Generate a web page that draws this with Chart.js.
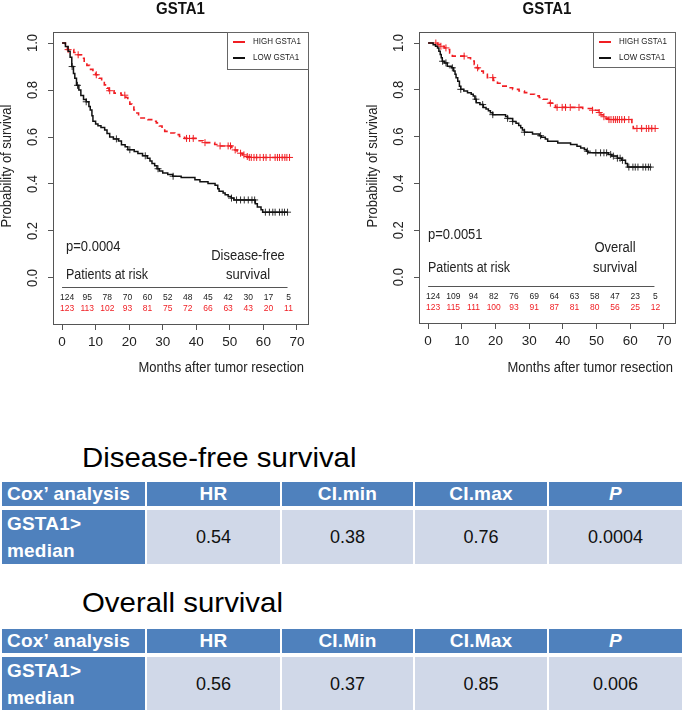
<!DOCTYPE html>
<html>
<head>
<meta charset="utf-8">
<script src="https://cdn.jsdelivr.net/npm/chart.js@4.4.0/dist/chart.umd.min.js"></script>
<style>
  html, body { margin: 0; padding: 0; background: #fff; }
  #page { position: relative; width: 682px; height: 710px; overflow: hidden; font-family: "Liberation Sans", Arial, sans-serif; }
  .plot { position: absolute; top: 0; }
  .heading { position: absolute; left: 82px; font-size: 28px; line-height: 32px; color: #000; white-space: nowrap; transform: scaleX(1.05); transform-origin: left top; }
  table.cox { position: absolute; left: 0; width: 684px; border-collapse: separate; border-spacing: 2px 4px; table-layout: fixed; }
  table.cox td { padding: 0; }
  table.cox tr.head td { height: 24px; background: #4f81bd; color: #fff; font-weight: bold; font-size: 19px; text-align: center; letter-spacing: 0.2px; }
  table.cox tr.head td:first-child { text-align: left; padding-left: 5px; }
  table.cox tr.head td.p { font-style: italic; }
  table.cox tr.vals td { height: 53px; background: #d0d8e8; color: #111; font-size: 18px; text-align: center; }
  table.cox tr.vals td.lab { background: #4f81bd; color: #fff; font-weight: bold; font-size: 19px; text-align: left; padding-left: 5px; line-height: 27px; letter-spacing: 0.2px; }
</style>
</head>
<body>
<div id="page">
  <canvas id="dfsChart" class="plot" style="left:0" width="341" height="380"></canvas>
  <canvas id="osChart" class="plot" style="left:341px" width="341" height="380"></canvas>
  <div class="heading" style="top:442px">Disease-free survival</div>
  <table class="cox" id="coxDfs" style="top:478px"></table>
  <div class="heading" style="top:587px">Overall survival</div>
  <table class="cox" id="coxOs" style="top:625px"></table>
</div>
<script>
// --- Data ---
const riskTimes = [0, 6, 12, 18, 24, 30, 36, 42, 48, 54, 60, 66];
const dfsRiskLow = [124, 95, 78, 70, 60, 52, 48, 45, 42, 30, 17, 5];
const dfsRiskHigh = [123, 113, 102, 93, 81, 75, 72, 66, 63, 43, 20, 11];
const osRiskLow = [124, 109, 94, 82, 76, 69, 64, 63, 58, 47, 23, 5];
const osRiskHigh = [123, 115, 111, 100, 93, 91, 87, 81, 80, 56, 25, 12];

// Disease-free survival, step points (months, survival) and censor times
const dfsHighT = [0, 1.0, 1.6, 3.5, 4.5, 5.8, 6.6, 7.4, 8.2, 9.2, 10.0, 11.0, 11.8, 12.6, 13.4, 14.0, 15.5, 17.6, 19.0, 19.6, 20.2, 20.8, 21.4, 21.8, 22.8, 23.5, 25.6, 27.0, 28.1, 29.0, 29.8, 30.6, 32.0, 33.6, 35.0, 36.5, 40.5, 42.0, 45.5, 47.0, 50.6, 51.2, 52.2, 52.8, 53.8, 54.6, 55.4, 67.8];
const dfsHighS = [1, 0.985, 0.972, 0.96, 0.95, 0.935, 0.918, 0.905, 0.888, 0.875, 0.865, 0.85, 0.836, 0.822, 0.808, 0.797, 0.787, 0.778, 0.768, 0.755, 0.74, 0.728, 0.715, 0.702, 0.69, 0.681, 0.674, 0.667, 0.66, 0.647, 0.635, 0.624, 0.617, 0.61, 0.602, 0.594, 0.584, 0.576, 0.568, 0.562, 0.552, 0.545, 0.538, 0.531, 0.524, 0.517, 0.513, 0.513];
const dfsHighC = [1.8, 4.8, 10.2, 14.2, 18.7, 37.1, 38.0, 39.1, 42.6, 47.1, 49.5, 50.2, 51.6, 53.2, 54.2, 55.2, 55.8, 56.4, 57.2, 58.0, 59.0, 60.0, 60.8, 62.0, 63.5, 64.2, 64.8, 65.6, 66.4, 67.0, 67.8];

const dfsLowT = [0, 1.0, 1.8, 2.4, 2.9, 3.4, 3.8, 4.3, 5.0, 5.6, 6.4, 7.2, 8.0, 8.4, 8.9, 9.2, 10.0, 10.7, 11.6, 12.7, 13.4, 14.2, 15.3, 16.8, 17.7, 18.8, 19.6, 21.5, 22.6, 24.0, 25.4, 26.2, 26.8, 27.6, 28.3, 29.0, 30.0, 31.5, 33.0, 35.5, 39.6, 41.1, 43.5, 45.6, 46.4, 46.8, 48.0, 48.6, 49.5, 50.4, 51.2, 57.6, 58.2, 59.3, 59.8, 67.2];
const dfsLowS = [1, 0.985, 0.965, 0.94, 0.90, 0.87, 0.85, 0.82, 0.80, 0.777, 0.76, 0.75, 0.73, 0.715, 0.69, 0.667, 0.655, 0.648, 0.64, 0.63, 0.615, 0.60, 0.592, 0.583, 0.567, 0.558, 0.546, 0.538, 0.53, 0.52, 0.51, 0.498, 0.487, 0.478, 0.465, 0.455, 0.447, 0.44, 0.433, 0.428, 0.418, 0.41, 0.402, 0.395, 0.38, 0.369, 0.362, 0.354, 0.347, 0.34, 0.332, 0.316, 0.302, 0.29, 0.28, 0.28];
const dfsLowC = [3.0, 4.6, 7.2, 16.2, 20.2, 24.8, 28.6, 33.1, 50.5, 52.0, 53.2, 54.3, 55.5, 56.6, 57.4, 60.6, 61.8, 62.8, 63.5, 64.8, 65.6, 66.3, 67.2];

// Overall survival
const osHighT = [0, 2.8, 3.6, 4.8, 5.6, 6.4, 7.2, 11.4, 12.6, 13.7, 14.3, 15.0, 16.4, 17.6, 19.4, 20.6, 21.7, 24.0, 25.1, 27.0, 28.6, 30.2, 31.6, 33.0, 34.1, 35.4, 36.0, 37.2, 37.8, 45.9, 48.8, 50.6, 51.3, 52.0, 52.8, 53.6, 60.5, 60.9, 67.6];
const osHighS = [1, 0.993, 0.986, 0.979, 0.972, 0.958, 0.944, 0.937, 0.923, 0.908, 0.894, 0.88, 0.866, 0.852, 0.84, 0.828, 0.816, 0.809, 0.802, 0.795, 0.788, 0.781, 0.774, 0.767, 0.76, 0.752, 0.743, 0.734, 0.725, 0.72, 0.713, 0.703, 0.693, 0.685, 0.679, 0.673, 0.655, 0.635, 0.635];
const osHighC = [2.3, 3.8, 5.3, 10.7, 14.7, 19.2, 36.3, 38.3, 39.8, 40.8, 42.2, 44.8, 48.8, 50.8, 52.2, 53.7, 54.3, 55.0, 55.6, 56.2, 56.8, 57.5, 58.3, 59.6, 62.0, 63.4, 64.8, 65.5, 66.4, 67.4];

const osLowT = [0, 1.5, 2.2, 2.8, 3.2, 3.6, 3.9, 4.2, 4.8, 5.7, 7.0, 7.6, 8.0, 8.3, 8.8, 9.3, 9.7, 10.6, 11.7, 12.8, 13.4, 13.9, 14.3, 15.4, 16.4, 17.2, 17.9, 18.5, 19.2, 23.0, 23.6, 25.1, 26.1, 26.9, 27.5, 28.0, 28.6, 31.0, 33.0, 33.6, 34.8, 35.5, 38.5, 42.3, 44.2, 45.3, 46.4, 47.0, 47.5, 53.5, 54.5, 56.2, 57.5, 58.6, 59.2, 66.0];
const osLowS = [1, 0.993, 0.986, 0.979, 0.965, 0.951, 0.937, 0.922, 0.915, 0.901, 0.894, 0.88, 0.866, 0.852, 0.837, 0.815, 0.802, 0.795, 0.788, 0.781, 0.774, 0.76, 0.745, 0.737, 0.725, 0.718, 0.711, 0.702, 0.694, 0.686, 0.678, 0.665, 0.657, 0.648, 0.638, 0.628, 0.619, 0.611, 0.604, 0.597, 0.59, 0.58, 0.573, 0.566, 0.559, 0.552, 0.545, 0.538, 0.531, 0.524, 0.517, 0.508, 0.499, 0.485, 0.47, 0.47];
const osLowC = [4.3, 5.3, 7.2, 9.7, 14.2, 16.2, 19.2, 23.6, 25.1, 28.6, 33.4, 47.3, 49.8, 51.2, 52.2, 53.0, 54.2, 55.0, 56.2, 57.0, 57.7, 59.6, 60.8, 61.5, 62.3, 63.8, 64.6, 65.4, 66.0];

// Cox tables
const coxHeadDfs = ['Cox\u2019 analysis', 'HR', 'CI.min', 'CI.max', 'P'];
const coxHeadOs = ['Cox\u2019 analysis', 'HR', 'CI.Min', 'CI.Max', 'P'];
const coxDfsVals = ['0.54', '0.38', '0.76', '0.0004'];
const coxOsVals = ['0.56', '0.37', '0.85', '0.006'];

// --- Helpers ---
const RED = '#f01e23';
const DARK = '#111111';
const FONT = '"Liberation Sans", Arial, sans-serif';

function survAt(ts, ss, t) {
    let s = ss[0];
    for (let i = 0; i < ts.length; i++) {
        if (ts[i] <= t) s = ss[i];
    }
    return s;
}

function stepData(ts, ss) {
    return ts.map((t, i) => ({ x: t, y: ss[i] }));
}

function censorData(cs, ts, ss) {
    return cs.map(t => ({ x: t, y: survAt(ts, ss, t) }));
}

// text is a little taller than wide in the original, so stretch it vertically
function put(ctx, str, x, y, font, color, align) {
    ctx.save();
    ctx.translate(x, y);
    ctx.scale(1, 1.12);
    ctx.font = font;
    ctx.fillStyle = color;
    ctx.textAlign = align || 'left';
    ctx.textBaseline = 'middle';
    ctx.fillText(str, 0, 0);
    ctx.restore();
}

// draws box, labels, legend and the risk table
const kmDecor = {
    id: 'kmDecor',
    afterDraw(chart, args, o) {
        const ctx = chart.ctx;
        const a = chart.chartArea;
        const xs = chart.scales.x, ys = chart.scales.y;
        ctx.save();

        // frame
        ctx.strokeStyle = '#555';
        ctx.lineWidth = 1;
        ctx.strokeRect(a.left + 0.5, a.top + 0.5, a.right - a.left, a.bottom - a.top);

        // title
        put(ctx, 'GSTA1', (a.left + a.right) / 2, 9, 'bold 15px ' + FONT, '#111', 'center');

        // rotated y tick labels and y title
        ys.ticks.forEach(tk => {
            ctx.save();
            ctx.translate(a.left - 20, ys.getPixelForValue(tk.value));
            ctx.rotate(-Math.PI / 2);
            put(ctx, tk.value.toFixed(1), 0, 0, '13px ' + FONT, '#222', 'center');
            ctx.restore();
        });
        ctx.save();
        ctx.translate(a.left - 46, 166);
        ctx.rotate(-Math.PI / 2);
        put(ctx, 'Probability of survival', 0, 0, '13px ' + FONT, '#222', 'center');
        ctx.restore();

        // x title
        put(ctx, 'Months after tumor resection', o.xTitleRight, 368, '13px ' + FONT, '#222', 'right');

        // annotations
        put(ctx, o.pText, o.textX, o.pY, '13px ' + FONT, '#222', 'left');
        put(ctx, 'Patients at risk', o.textX, o.riskHeadY, '12.5px ' + FONT, '#222', 'left');
        o.endpoint.forEach((line, i) => {
            put(ctx, line, o.endpointX, o.endpointY[i], '13px ' + FONT, '#222', 'center');
        });

        // risk table
        ctx.strokeStyle = '#555';
        ctx.beginPath();
        ctx.moveTo(xs.getPixelForValue(0), o.riskLineY + 0.5);
        ctx.lineTo(xs.getPixelForValue(67.2), o.riskLineY + 0.5);
        ctx.stroke();
        riskTimes.forEach((t, i) => {
            const px = xs.getPixelForValue(t) + 5;
            put(ctx, String(o.riskLow[i]), px, o.riskLowY, '8.5px ' + FONT, '#222', 'center');
            put(ctx, String(o.riskHigh[i]), px, o.riskHighY, '8.5px ' + FONT, RED, 'center');
        });

        // legend
        const L = o.legend;
        ctx.strokeStyle = '#666';
        ctx.strokeRect(L.x + 0.5, a.top + 0.5, a.right - L.x, L.h);
        ctx.lineWidth = 2;
        [[RED, 'HIGH GSTA1', a.top + 10], [DARK, 'LOW GSTA1', a.top + 26]].forEach(([c, label, y]) => {
            ctx.strokeStyle = c;
            ctx.beginPath();
            ctx.moveTo(L.x + 6, y);
            ctx.lineTo(L.x + 18, y);
            ctx.stroke();
            put(ctx, label, L.x + 26, y, '8px ' + FONT, '#222', 'left');
        });

        ctx.restore();
    }
};

function makeKM(canvasId, cfg) {
    return new Chart(document.getElementById(canvasId), {
        type: 'scatter',
        data: {
            datasets: [
                {
                    data: stepData(cfg.lowT, cfg.lowS), showLine: true, stepped: true,
                    borderColor: DARK, borderWidth: 1.5, pointRadius: 0
                },
                {
                    data: stepData(cfg.highT, cfg.highS), showLine: true, stepped: true,
                    borderColor: RED, borderWidth: 1.6, borderDash: [5, 4], pointRadius: 0
                },
                {
                    data: censorData(cfg.lowC, cfg.lowT, cfg.lowS), showLine: false,
                    pointStyle: 'cross', pointRadius: 3.5, borderColor: '#333', borderWidth: 1
                },
                {
                    data: censorData(cfg.highC, cfg.highT, cfg.highS), showLine: false,
                    pointStyle: 'cross', pointRadius: 3.5, borderColor: RED, borderWidth: 1
                }
            ]
        },
        options: {
            responsive: false,
            animation: false,
            layout: { padding: { left: 0, right: cfg.padRight, top: 32, bottom: 0 } },
            plugins: {
                legend: { display: false },
                tooltip: { enabled: false },
                kmDecor: cfg.decor
            },
            scales: {
                x: {
                    type: 'linear', min: -2.7, max: 73.3,
                    afterFit: s => { s.height = cfg.xHeight; },
                    border: { display: false },
                    grid: { drawOnChartArea: false, drawTicks: true, tickLength: 6, color: '#555' },
                    ticks: { stepSize: 10, includeBounds: false, padding: 4, color: '#222', font: { family: FONT, size: 13.5 } }
                },
                y: {
                    type: 'linear', min: -0.196, max: 1.047,
                    afterFit: s => { s.width = cfg.yWidth; },
                    border: { display: false },
                    grid: { drawOnChartArea: false, drawTicks: true, tickLength: 5, color: '#555' },
                    ticks: { stepSize: 0.2, includeBounds: false, display: false }
                }
            }
        },
        plugins: [kmDecor]
    });
}

makeKM('dfsChart', {
    lowT: dfsLowT, lowS: dfsLowS, lowC: dfsLowC,
    highT: dfsHighT, highS: dfsHighS, highC: dfsHighC,
    yWidth: 53, padRight: 33, xHeight: 56,
    decor: {
        pText: 'p=0.0004', textX: 66, pY: 247, riskHeadY: 275,
        endpoint: ['Disease-free', 'survival'], endpointX: 248, endpointY: [256, 275],
        riskLineY: 287, riskLowY: 297, riskHighY: 308,
        riskLow: dfsRiskLow, riskHigh: dfsRiskHigh,
        xTitleRight: 304,
        legend: { x: 227, h: 37 }
    }
});

makeKM('osChart', {
    lowT: osLowT, lowS: osLowS, lowC: osLowC,
    highT: osHighT, highS: osHighS, highC: osHighC,
    yWidth: 78, padRight: 7, xHeight: 57,
    decor: {
        pText: 'p=0.0051', textX: 87, pY: 235, riskHeadY: 268,
        endpoint: ['Overall', 'survival'], endpointX: 274, endpointY: [248, 268],
        riskLineY: 286, riskLowY: 296, riskHighY: 307,
        riskLow: osRiskLow, riskHigh: osRiskHigh,
        xTitleRight: 332,
        legend: { x: 252, h: 35 }
    }
});

// --- Cox tables ---
function fillCox(id, head, vals) {
    const table = document.getElementById(id);
    const widths = [143, 133, 131, 132, 133];
    let html = '<colgroup>' + widths.map(w => `<col style="width:${w}px">`).join('') + '</colgroup>';
    html += '<tr class="head">' + head.map((h, i) => `<td class="${i === 4 ? 'p' : ''}">${h}</td>`).join('') + '</tr>';
    html += '<tr class="vals"><td class="lab">GSTA1&gt;<br>median</td>' + vals.map(v => `<td>${v}</td>`).join('') + '</tr>';
    table.innerHTML = html;
}
fillCox('coxDfs', coxHeadDfs, coxDfsVals);
fillCox('coxOs', coxHeadOs, coxOsVals);
</script>
</body>
</html>
